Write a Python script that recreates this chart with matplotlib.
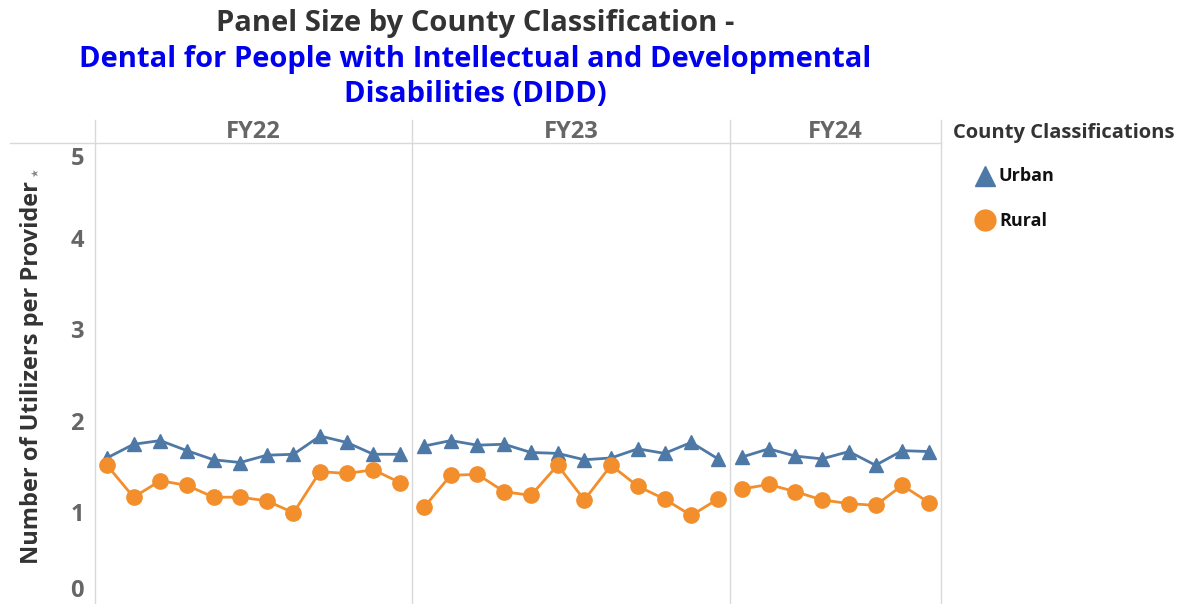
import matplotlib
matplotlib.use("Agg")
from matplotlib import pyplot as plt
from matplotlib.lines import Line2D
import numpy as np

# values
years = ["FY22", "FY23", "FY24"]
urban = {
    "FY22": [1.59, 1.74, 1.78, 1.67, 1.57, 1.54, 1.62, 1.63, 1.83, 1.76, 1.63, 1.63],
    "FY23": [1.72, 1.78, 1.73, 1.74, 1.65, 1.64, 1.57, 1.59, 1.69, 1.64, 1.76, 1.58],
    "FY24": [1.60, 1.69, 1.61, 1.58, 1.66, 1.51, 1.67, 1.66],
}
rural = {
    "FY22": [1.51, 1.16, 1.34, 1.29, 1.16, 1.16, 1.12, 0.99, 1.44, 1.42, 1.46, 1.32],
    "FY23": [1.05, 1.40, 1.41, 1.22, 1.18, 1.51, 1.13, 1.51, 1.28, 1.14, 0.96, 1.14],
    "FY24": [1.25, 1.30, 1.22, 1.13, 1.09, 1.07, 1.29, 1.10],
}
y_ticks = [0, 1, 2, 3, 4, 5]

URBAN_C = "#4e79a7"
RURAL_C = "#f28e2b"
GRID_C = "#d9d9d9"
TEXT_C = "#666666"
FONT = "Open Sans"

W, H = 1180, 604
fig = plt.figure(figsize=(W / 100, H / 100), dpi=100)


def fx(px):
    return px / W


def fy(py):
    return 1 - py / H


edges = [95, 412, 730, 941]
plot_top, head_top = 143, 120

for i, yr in enumerate(years):
    ax = fig.add_axes([fx(edges[i]), 0, fx(edges[i + 1] - edges[i]), fy(plot_top)])
    n = len(urban[yr])
    x = np.arange(n)
    ax.plot(x, urban[yr], color=URBAN_C, lw=2, marker="^", ms=10, zorder=3)
    ax.plot(x, rural[yr], color=RURAL_C, lw=2, marker="o", ms=11, zorder=3)
    ax.set_xlim(-0.45, n - 0.55)
    ax.set_ylim(-0.01, 5.04)
    ax.set_xticks([])
    for s in ax.spines.values():
        s.set_visible(False)
    if i == 0:
        ax.set_yticks(y_ticks)
        labels = ax.set_yticklabels([str(t) for t in y_ticks], fontsize=17,
                                    color=TEXT_C, fontweight="bold", family=FONT)
        labels[0].set_va("bottom")
        labels[-1].set_va("top")
        ax.tick_params(axis="y", length=0, pad=8)
    else:
        ax.set_yticks([])
    fig.text(fx((edges[i] + edges[i + 1]) / 2), fy(132), yr, ha="center", va="center",
             fontsize=17, color=TEXT_C, fontweight="bold", family=FONT)

# header lines
fig.add_artist(Line2D([fx(10), fx(941)], [fy(plot_top), fy(plot_top)], color=GRID_C, lw=1))
for e in edges:
    fig.add_artist(Line2D([fx(e), fx(e)], [fy(head_top), 0], color=GRID_C, lw=1))

# y label
fig.text(fx(32), fy(372), "Number of Utilizers per Provider", rotation=90, ha="center",
         va="center", fontsize=17, color="#333333", fontweight="bold", family=FONT)
fig.text(fx(35), fy(173), "\u2605", rotation=90, ha="center", va="center",
         fontsize=7, color="#888888")

# titles
fig.text(fx(475), fy(24), "Panel Size by County Classification -", ha="center", va="center",
         fontsize=21, color="#333333", fontweight="bold", family=FONT)
fig.text(fx(475), fy(60), "Dental for People with Intellectual and Developmental",
         ha="center", va="center", fontsize=21, color="#0000ee", fontweight="bold", family=FONT)
fig.text(fx(475), fy(95), "Disabilities (DIDD)", ha="center", va="center",
         fontsize=21, color="#0000ee", fontweight="bold", family=FONT)

# legend
fig.text(fx(953), fy(133), "County Classifications", ha="left", va="center",
         fontsize=14.5, color="#333333", fontweight="bold", family=FONT)
fig.add_artist(Line2D([fx(985)], [fy(176)], marker="^", ms=14, color=URBAN_C, lw=0))
fig.add_artist(Line2D([fx(985)], [fy(220)], marker="o", ms=15, color=RURAL_C, lw=0))
fig.text(fx(999), fy(176), "Urban", ha="left", va="center", fontsize=13,
         color="#111111", fontweight="bold", family=FONT)
fig.text(fx(999), fy(221), "Rural", ha="left", va="center", fontsize=13,
         color="#111111", fontweight="bold", family=FONT)

plt.savefig("out.png", dpi=100)
